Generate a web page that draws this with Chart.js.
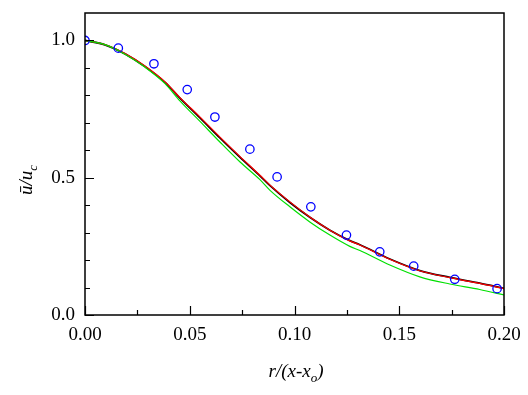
<!DOCTYPE html>
<html lang="en">
<head>
<meta charset="UTF-8">
<title>u/uc profile</title>
<style>
  body { margin: 0; background: #fff; }
  #box { width: 528px; height: 395px; }
</style>
</head>
<body>
<div id="box"><canvas id="myChart"></canvas></div>
<script src="https://cdn.jsdelivr.net/npm/chart.js"></script>
<script>
// measured points (open circles)
const expX = [0, 0.0159, 0.0329, 0.0488, 0.0620, 0.0787, 0.0917, 0.1078, 0.1248, 0.1407, 0.1569, 0.1765, 0.1967];
const expY = [1.0, 0.972, 0.915, 0.821, 0.721, 0.604, 0.503, 0.394, 0.291, 0.230, 0.178, 0.130, 0.096];

// curves
const curveX = [0, 0.0095, 0.0191, 0.0286, 0.0382, 0.0453, 0.0549, 0.0644, 0.0739, 0.0835, 0.0882, 0.0978, 0.1073, 0.1169, 0.1264, 0.1312, 0.1455, 0.1598, 0.1741, 0.1884, 0.2];
const blackY = [1.0, 0.984, 0.951, 0.905, 0.847, 0.790, 0.718, 0.645, 0.575, 0.507, 0.472, 0.410, 0.356, 0.309, 0.271, 0.256, 0.204, 0.162, 0.137, 0.116, 0.097];
const redY   = [1.0, 0.985, 0.952, 0.907, 0.849, 0.792, 0.721, 0.648, 0.578, 0.509, 0.474, 0.412, 0.357, 0.309, 0.270, 0.255, 0.203, 0.161, 0.136, 0.115, 0.096];
const greenY = [1.0, 0.985, 0.950, 0.903, 0.843, 0.780, 0.705, 0.630, 0.558, 0.493, 0.455, 0.394, 0.339, 0.291, 0.250, 0.235, 0.182, 0.139, 0.113, 0.093, 0.073];

const xTicks = [0, 0.05, 0.10, 0.15, 0.20];
const xMinor = [0.025, 0.075, 0.125, 0.175];
const yTicks = [0, 0.5, 1.0];
const yMinor = [0.1, 0.2, 0.3, 0.4, 0.6, 0.7, 0.8, 0.9];

const serif = "'Liberation Serif', 'Times New Roman', serif";

function pts(xs, ys) {
  return xs.map((v, i) => ({ x: v, y: ys[i] }));
}

// box + inward ticks
const frame = {
  id: 'frame',
  afterDatasetsDraw(chart) {
    const { ctx, chartArea: a, scales: { x, y } } = chart;
    ctx.save();
    ctx.strokeStyle = '#000';
    ctx.lineWidth = 1.5;
    ctx.strokeRect(a.left, a.top, a.right - a.left, a.bottom - a.top);
    ctx.beginPath();
    xTicks.concat(xMinor).forEach(v => {
      const p = Math.round(x.getPixelForValue(v)) + 0.5;
      const len = xTicks.includes(v) ? 9 : 5;
      ctx.moveTo(p, a.bottom);
      ctx.lineTo(p, a.bottom - len);
    });
    yTicks.concat(yMinor).forEach(v => {
      const p = Math.round(y.getPixelForValue(v)) + 0.5;
      const len = yTicks.includes(v) ? 9 : 5;
      ctx.moveTo(a.left, p);
      ctx.lineTo(a.left + len, p);
    });
    ctx.lineWidth = 1.2;
    ctx.stroke();
    ctx.restore();
  }
};

// axis titles with subscripts
const titles = {
  id: 'titles',
  afterDraw(chart) {
    const { ctx } = chart;
    ctx.save();
    ctx.fillStyle = '#000';
    ctx.textBaseline = 'alphabetic';

    // x title: r/(x-x_o)
    const big = 'italic 19px ' + serif;
    const small = 'italic 13px ' + serif;
    ctx.font = big;
    const a1 = 'r/(x-x';
    const w1 = ctx.measureText(a1).width;
    ctx.font = small;
    const w2 = ctx.measureText('o').width;
    ctx.font = big;
    const w3 = ctx.measureText(')').width;
    let x0 = 296 - (w1 + w2 + w3) / 2;
    const base = 377;
    ctx.fillText(a1, x0, base);
    ctx.font = small;
    ctx.fillText('o', x0 + w1, base + 5);
    ctx.font = big;
    ctx.fillText(')', x0 + w1 + w2, base);

    // y title: ū/u_c, rotated
    ctx.translate(32, 180);
    ctx.rotate(-Math.PI / 2);
    ctx.font = big;
    const b1 = 'ū/u';
    const v1 = ctx.measureText(b1).width;
    ctx.font = small;
    const v2 = ctx.measureText('c').width;
    const s = -(v1 + v2) / 2;
    ctx.font = big;
    ctx.fillText(b1, s, 0);
    ctx.font = small;
    ctx.fillText('c', s + v1, 5);
    ctx.restore();
  }
};

new Chart(document.getElementById('myChart'), {
  type: 'scatter',
  data: {
    datasets: [
      {
        label: 'measured',
        data: pts(expX, expY),
        showLine: false,
        pointStyle: 'circle',
        pointRadius: 4.2,
        pointBorderWidth: 1.3,
        borderColor: '#0000ff',
        backgroundColor: 'rgba(0,0,0,0)'
      },
      {
        label: 'green',
        data: pts(curveX, greenY),
        showLine: true,
        borderColor: '#00e000',
        borderWidth: 1.2,
        pointRadius: 0,
        cubicInterpolationMode: 'monotone'
      },
      {
        label: 'red',
        data: pts(curveX, redY),
        showLine: true,
        borderColor: '#ff0000',
        borderWidth: 1.2,
        pointRadius: 0,
        cubicInterpolationMode: 'monotone'
      },
      {
        label: 'black',
        data: pts(curveX, blackY),
        showLine: true,
        borderColor: '#000000',
        borderWidth: 1.8,
        pointRadius: 0,
        cubicInterpolationMode: 'monotone'
      }
    ]
  },
  options: {
    responsive: true,
    maintainAspectRatio: false,
    animation: false,
    layout: { padding: { left: 0, right: 24, top: 13, bottom: 0 } },
    plugins: {
      legend: { display: false },
      tooltip: { enabled: false }
    },
    scales: {
      x: {
        type: 'linear',
        min: 0,
        max: 0.2,
        afterBuildTicks: s => { s.ticks = xTicks.map(v => ({ value: v })); },
        afterFit: s => { s.height = 80; s.paddingLeft = 0; s.paddingRight = 0; },
        grid: { display: false, drawTicks: false },
        border: { display: false },
        ticks: {
          padding: 9,
          color: '#000',
          font: { family: serif, size: 19 },
          maxRotation: 0,
          callback: v => v.toFixed(2)
        }
      },
      y: {
        min: 0,
        max: 1.1,
        afterBuildTicks: s => { s.ticks = yTicks.map(v => ({ value: v })); },
        afterFit: s => { s.width = 85; s.paddingTop = 0; s.paddingBottom = 0; },
        grid: { display: false, drawTicks: false },
        border: { display: false },
        ticks: {
          padding: 10,
          color: '#000',
          font: { family: serif, size: 19 },
          callback: v => v.toFixed(1)
        }
      }
    }
  },
  plugins: [frame, titles]
});
</script>
</body>
</html>
